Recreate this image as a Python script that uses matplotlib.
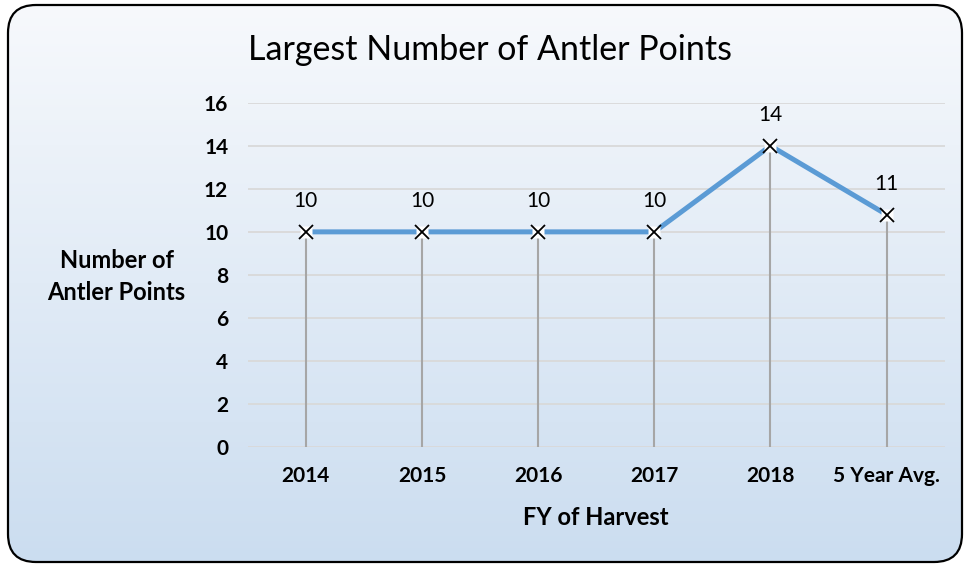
import numpy as np
import matplotlib
matplotlib.use("Agg")
import matplotlib.pyplot as plt
from matplotlib.patches import FancyBboxPatch

categories = ["2014", "2015", "2016", "2017", "2018", "5 Year Avg."]
antler_points = [10, 10, 10, 10, 14, 10.8]
point_labels = ["10", "10", "10", "10", "14", "11"]
y_ticks = [0, 2, 4, 6, 8, 10, 12, 14, 16]

plt.rcParams["font.family"] = ["Lato", "DejaVu Sans"]

fig = plt.figure(figsize=(9.64, 5.65), dpi=100)

# background panel with rounded border and vertical gradient
bg = fig.add_axes([0, 0, 1, 1])
bg.set_xlim(0, 964)
bg.set_ylim(565, 0)
bg.axis("off")
panel = FancyBboxPatch((8, 5), 954, 557, boxstyle="round,pad=0,rounding_size=28",
                       facecolor="none", edgecolor="black", linewidth=1.6, zorder=3)
bg.add_patch(panel)
top = np.array([247, 249, 252]) / 255.0
bottom = np.array([203, 221, 240]) / 255.0
t = np.linspace(0, 1, 256)[:, None, None]
grad = top * (1 - t) + bottom * t
grad = np.repeat(grad, 2, axis=1)
img = bg.imshow(grad, extent=[8, 962, 562, 5], aspect="auto", zorder=1)
img.set_clip_path(panel)

ax = fig.add_axes([0.257, 0.209, 0.723, 0.609])
ax.patch.set_alpha(0)
x = np.arange(len(categories))

# drop lines down to the axis
for i in range(len(categories)):
    ax.plot([x[i], x[i]], [0, antler_points[i]], color="#A6A6A6", linewidth=1.5, zorder=2)

ax.plot(x, antler_points, color="#5B9BD5", linewidth=3.6, zorder=3, solid_capstyle="butt")
ax.plot(x, antler_points, linestyle="none", marker="s", markersize=8,
        markerfacecolor="white", markeredgecolor="none", zorder=4)
ax.plot(x, antler_points, linestyle="none", marker="x", markersize=10,
        markeredgecolor="black", markeredgewidth=1.3, zorder=5)

for i in range(len(categories)):
    ax.annotate(point_labels[i], (x[i], antler_points[i]), xytext=(0, 15),
                textcoords="offset points", ha="center", va="bottom", fontsize=15)

ax.set_xlim(-0.5, len(categories) - 0.5)
ax.set_ylim(0, 16)
ax.set_yticks(y_ticks)
ax.set_yticklabels([str(v) for v in y_ticks], fontsize=15, fontweight="bold")
ax.set_xticks(x)
ax.set_xticklabels(categories, fontsize=15, fontweight="bold")
ax.tick_params(axis="both", length=0)
ax.tick_params(axis="y", pad=14)
ax.tick_params(axis="x", pad=14)
ax.grid(axis="y", color="#D9D9D9", linewidth=1.3)
ax.set_axisbelow(True)
for s in ax.spines.values():
    s.set_visible(False)

ax.set_xlabel("FY of Harvest", fontsize=17, fontweight="bold", labelpad=14)
fig.text(0.121, 0.511, "Number of\nAntler Points", ha="center", va="center",
         fontsize=17, fontweight="bold", linespacing=1.45)
fig.text(0.257, 0.912, "Largest Number of Antler Points", ha="left", va="center",
         fontsize=24.5)

fig.savefig("out.png", dpi=100)
